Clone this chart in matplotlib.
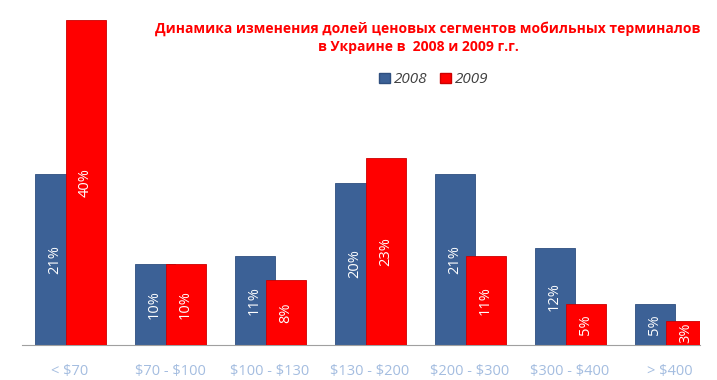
import numpy as np
import matplotlib
matplotlib.use("Agg")
import matplotlib.pyplot as plt
from matplotlib.patches import Patch

plt.rcParams['font.family'] = ['Open Sans', 'DejaVu Sans']

# data (percent share of each price segment)
segments = [r"< \$70", r"\$70 - \$100", r"\$100 - \$130", r"\$130 - \$200",
            r"\$200 - \$300", r"\$300 - \$400", r"> \$400"]
share_2008 = [21, 10, 11, 20, 21, 12, 5]
share_2009 = [40, 10, 8, 23, 11, 5, 3]
years = ["2008", "2009"]

col_2008 = "#3c6196"
col_2009 = "#ff0000"

fig = plt.figure(figsize=(7.17, 3.8), dpi=100)
ax = fig.add_axes([22 / 717, 35 / 380, 678 / 717, 325 / 380])

x = np.arange(len(segments))
off = 0.155
w = 0.40
b1 = ax.bar(x - off, share_2008, w, color=col_2008, edgecolor="#2f4f7f", linewidth=0.6, zorder=2)
b2 = ax.bar(x + off, share_2009, w, color=col_2009, edgecolor="#cc0000", linewidth=0.6, zorder=3)

for bars, vals in ((b1, share_2008), (b2, share_2009)):
    for bar, v in zip(bars, vals):
        ax.text(bar.get_x() + bar.get_width() / 2, v / 2, "{}%".format(v),
                rotation=90, ha="center", va="center", color="white",
                fontsize=10.5, zorder=5)

ax.set_xlim(-0.48, 6.3)
ax.set_ylim(0, 40)
ax.set_xticks(x)
ax.set_xticklabels(segments, color="#a4bde0", fontsize=10.5)
ax.tick_params(axis="x", length=0, pad=14)
ax.set_yticks([])
for s in ("left", "right", "top"):
    ax.spines[s].set_visible(False)
ax.spines["bottom"].set_color("#a0a0a0")
ax.patch.set_alpha(0)

fig.text(0.597, 0.925, "Динамика изменения долей ценовых сегментов мобильных терминалов",
         ha="center", va="center", color="#ff0000", fontsize=10, fontweight="bold")
fig.text(0.583, 0.875, "в Украине в  2008 и 2009 г.г.",
         ha="center", va="center", color="#ff0000", fontsize=10, fontweight="bold")

handles = [Patch(facecolor=col_2008, edgecolor="#2f4f7f"),
           Patch(facecolor=col_2009, edgecolor="#cc0000")]
fig.legend(handles, years, loc="center", bbox_to_anchor=(0.605, 0.79), ncol=2,
           frameon=False, handlelength=0.7, handleheight=0.7, handletextpad=0.3,
           columnspacing=0.8, prop={"style": "italic", "size": 11},
           labelcolor="#404040")

fig.savefig("out.png", dpi=100)
